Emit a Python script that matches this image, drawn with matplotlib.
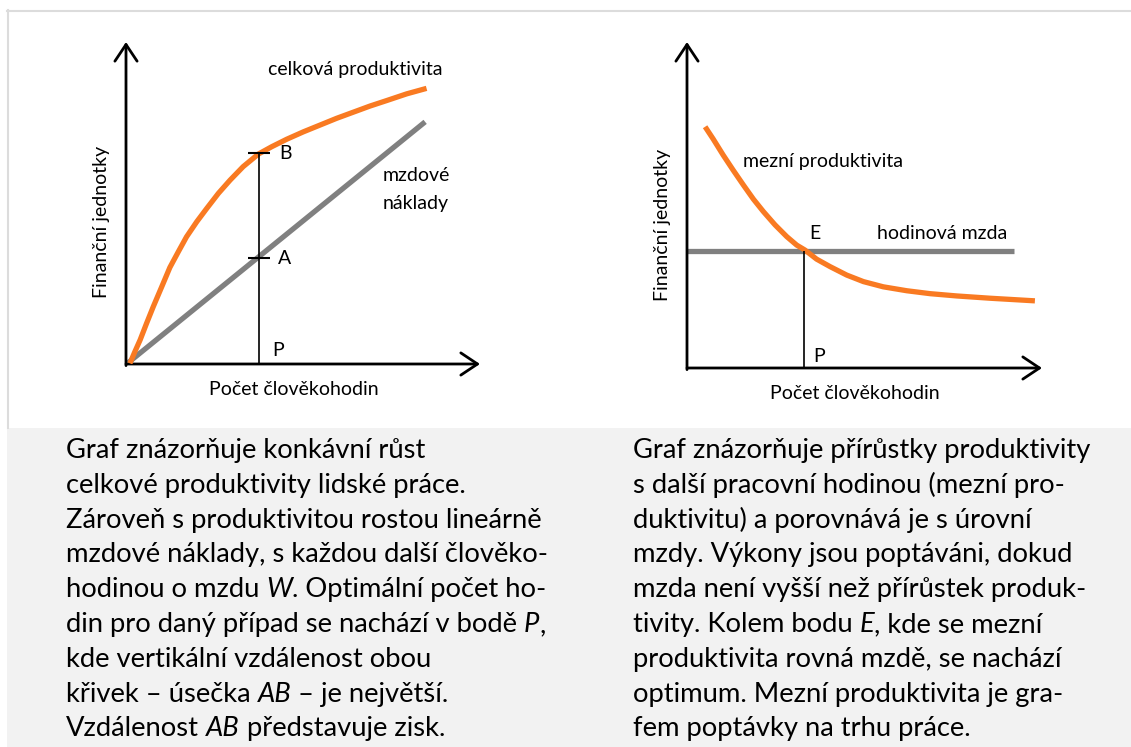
import matplotlib
matplotlib.use("Agg")
import matplotlib.pyplot as plt
from matplotlib.patches import Rectangle

plt.rcParams["font.family"] = ["Lato", "DejaVu Sans"]

W, H = 1131, 747
ORANGE = "#f97a22"
GREY = "#808080"

# --- left diagram: total productivity vs. wage costs (units: axis length = 10)
total_x = [0.11, 0.25, 0.40, 0.58, 0.77, 1.01, 1.24, 1.48, 1.71, 2.00, 2.28, 2.61, 2.94,
           3.31, 3.74, 4.12, 4.54, 5.01, 5.48, 5.95, 6.42, 6.89, 7.36, 7.93, 8.49]
total_y = [0.02, 0.38, 0.75, 1.26, 1.78, 2.40, 3.00, 3.49, 3.95, 4.42, 4.83, 5.30, 5.71,
           6.13, 6.52, 6.75, 6.98, 7.21, 7.42, 7.63, 7.82, 8.01, 8.18, 8.39, 8.56]
wage_x = [0.05, 8.45]
wage_y = [0.03, 7.52]
p_left = 3.76
a_left = 3.29
b_left = 6.55

# --- right diagram: marginal productivity vs. hourly wage
marg_x = [0.51, 0.74, 1.02, 1.30, 1.59, 1.87, 2.15, 2.48, 2.81, 3.09, 3.32, 3.65, 4.03,
          4.50, 4.97, 5.53, 6.19, 6.85, 7.60, 8.54, 9.80]
marg_y = [7.40, 7.02, 6.53, 6.07, 5.61, 5.18, 4.80, 4.39, 4.03, 3.77, 3.62, 3.34, 3.11,
          2.85, 2.65, 2.49, 2.37, 2.28, 2.21, 2.14, 2.06]
hourly_x = [0.0, 9.21]
hourly_y = [3.59, 3.59]
p_right = 3.30

axis_title_x = "Počet člověkohodin"
axis_title_y = "Finanční jednotky"

left_text = [
    "Graf znázorňuje konkávní růst",
    "celkové produktivity lidské práce.",
    "Zároveň s produktivitou rostou lineárně",
    "mzdové náklady, s každou další člověko-",
    "hodinou o mzdu *W*. Optimální počet ho-",
    "din pro daný případ se nachází v bodě *P*,",
    "kde vertikální vzdálenost obou",
    "křivek – úsečka *AB* – je největší.",
    "Vzdálenost *AB* představuje zisk.",
]
right_text = [
    "Graf znázorňuje přírůstky produktivity",
    "s další pracovní hodinou (mezní pro-",
    "duktivitu) a porovnává je s úrovní",
    "mzdy. Výkony jsou poptáváni, dokud",
    "mzda není vyšší než přírůstek produk-",
    "tivity. Kolem bodu *E*, kde se mezní",
    "produktivita rovná mzdě, se nachází",
    "optimum. Mezní produktivita je gra-",
    "fem poptávky na trhu práce.",
]

fig = plt.figure(figsize=(W / 100, H / 100), dpi=100)
fig.patch.set_facecolor("white")

# frame and grey caption box
fig.add_artist(Rectangle((7 / W, 0), 1 - 7 / W, 1 - 428 / H, transform=fig.transFigure,
                         facecolor="#f2f2f2", edgecolor="none", zorder=0))
fig.add_artist(plt.Line2D([7 / W, 1], [1 - 10.5 / H, 1 - 10.5 / H], transform=fig.transFigure,
                          color="#dcdcdc", lw=1.5))
fig.add_artist(plt.Line2D([7.5 / W, 7.5 / W], [1 - 428 / H, 1 - 10 / H], transform=fig.transFigure,
                          color="#dcdcdc", lw=1.5))

LABEL = 14


def diagram(origin, tip_x, tip_y):
    ox, oy = origin
    ax = fig.add_axes([ox / W, 1 - oy / H, (tip_x - ox) / W, (oy - tip_y) / H])
    ax.set_xlim(0, 10)
    ax.set_ylim(0, 10)
    ax.axis("off")
    arrow = dict(arrowstyle="->,head_length=0.6,head_width=0.4", lw=2.0, color="black",
                 shrinkA=0, shrinkB=0, mutation_scale=20)
    ax.annotate("", xy=(10, 0), xytext=(0, 0), arrowprops=arrow, annotation_clip=False)
    ax.annotate("", xy=(0, 10), xytext=(0, -0.05), arrowprops=arrow, annotation_clip=False)
    ax.text(4.74, -0.78, axis_title_x, ha="center", va="center", fontsize=LABEL, clip_on=False)
    ax.text(-0.69, 4.4, axis_title_y, ha="center", va="center", rotation=90, fontsize=LABEL,
            clip_on=False)
    return ax


lab = dict(fontsize=LABEL, va="center", clip_on=False)

ax1 = diagram((126, 364), 480, 42)
ax1.plot(wage_x, wage_y, color=GREY, lw=3.8, solid_capstyle="butt", zorder=2)
ax1.plot(total_x, total_y, color=ORANGE, lw=3.8, solid_capstyle="butt",
         solid_joinstyle="round", zorder=3)
ax1.vlines(p_left, 0, b_left, color="black", lw=1.2, zorder=4)
ax1.hlines([a_left, b_left], p_left - 0.31, p_left + 0.31, color="black", lw=1.5, zorder=4)
ax1.text(6.47, 9.16, "celková produktivita", ha="center", **lab)
ax1.text(8.19, 5.84, "mzdové", ha="center", **lab)
ax1.text(8.19, 5.0, "náklady", ha="center", **lab)
ax1.text(4.32, b_left, "B", ha="left", **lab)
ax1.text(4.29, a_left, "A", ha="left", **lab)
ax1.text(4.12, 0.43, "P", ha="left", **lab)

ax2 = diagram((687, 368), 1042, 42)
ax2.plot(hourly_x, hourly_y, color=GREY, lw=3.8, solid_capstyle="butt", zorder=2)
ax2.plot(marg_x, marg_y, color=ORANGE, lw=3.8, solid_capstyle="butt",
         solid_joinstyle="round", zorder=3)
ax2.vlines(p_right, 0, hourly_y[0], color="black", lw=1.2, zorder=4)
ax2.text(3.83, 6.32, "mezní produktivita", ha="center", **lab)
ax2.text(7.18, 4.14, "hodinová mzda", ha="center", **lab)
ax2.text(3.44, 4.14, "E", ha="left", **lab)
ax2.text(3.55, 0.34, "P", ha="left", **lab)

# caption text, italic parts marked with *...*
renderer = fig.canvas.get_renderer()
BODY = 19.7


def text_width(s, style="normal"):
    t = fig.text(0, 0, s, fontsize=BODY, fontstyle=style)
    w = t.get_window_extent(renderer).width
    t.remove()
    return w


space_w = text_width("a a") - text_width("aa")


def rich_line(x_px, y_px, line):
    x = x_px
    for i, part in enumerate(line.split("*")):
        if not part:
            continue
        style = "italic" if i % 2 else "normal"
        lead = len(part) - len(part.lstrip(" "))
        trail = len(part) - len(part.rstrip(" "))
        x += lead * space_w
        t = fig.text(x / W, 1 - y_px / H, part.strip(" "), fontsize=BODY, fontstyle=style,
                     ha="left", va="baseline", color="black")
        x += t.get_window_extent(renderer).width + trail * space_w


for k, (l, r) in enumerate(zip(left_text, right_text)):
    y = 458 + k * 34.8
    rich_line(66, y, l)
    rich_line(633, y, r)

fig.savefig("out.png", dpi=100)
